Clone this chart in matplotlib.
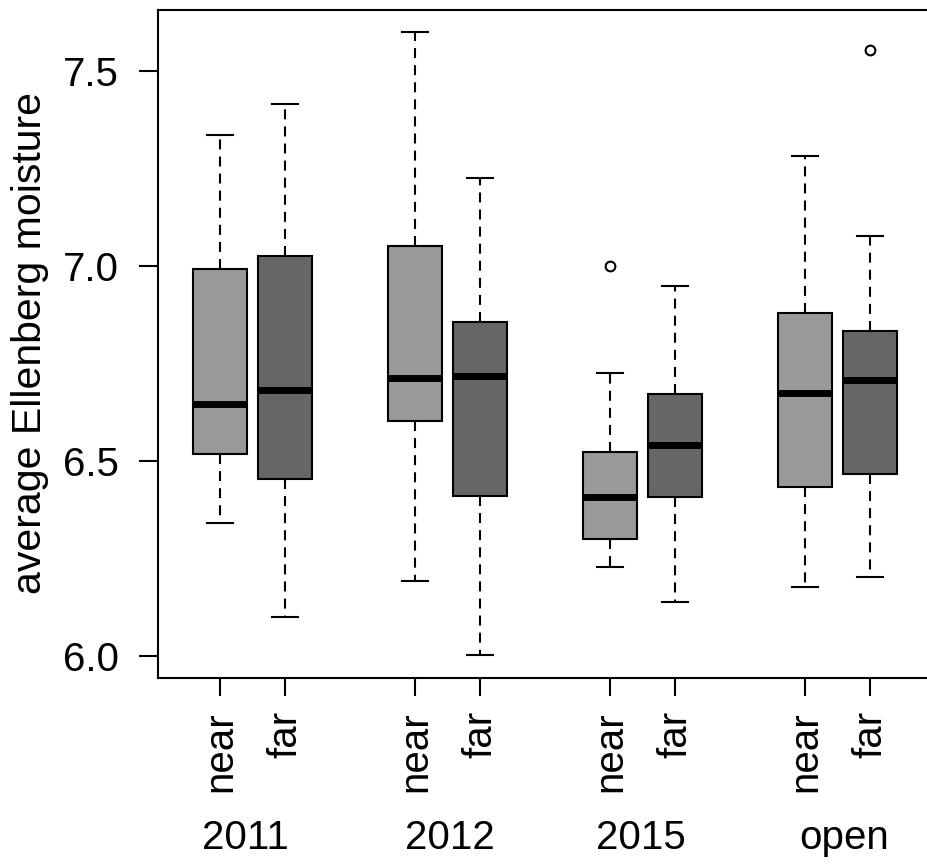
import matplotlib.pyplot as plt

plt.rcParams['font.family'] = ['Liberation Sans', 'DejaVu Sans']

# boxplot summaries
groups = ['2011', '2012', '2015', 'open']
sites = ['near', 'far']
whislo = [6.341, 6.100, 6.192, 6.003, 6.228, 6.138, 6.177, 6.203]
q1 = [6.518, 6.454, 6.603, 6.410, 6.300, 6.408, 6.433, 6.467]
med = [6.646, 6.682, 6.713, 6.718, 6.408, 6.541, 6.674, 6.708]
q3 = [6.992, 7.026, 7.051, 6.856, 6.523, 6.672, 6.879, 6.833]
whishi = [7.336, 7.415, 7.600, 7.226, 6.726, 6.949, 7.282, 7.077]
fliers = [[], [], [], [], [7.0], [], [], [7.554]]

positions = [1, 2, 4, 5, 7, 8, 10, 11]
group_pos = [1.384, 4.538, 7.477, 10.6]
fills = ['#999999', '#666666'] * 4

stats = []
for i in range(len(positions)):
    stats.append({'whislo': whislo[i], 'q1': q1[i], 'med': med[i],
                  'q3': q3[i], 'whishi': whishi[i], 'fliers': fliers[i]})

fig = plt.figure(figsize=(9.28, 8.66), dpi=100)
ax = fig.add_axes([158 / 928, 188 / 866, 770 / 928, 668 / 866])

dash = (0, (4.8, 3.4))
bp = ax.bxp(stats, positions=positions, widths=0.83, capwidths=0.41,
            patch_artist=True, showfliers=True,
            boxprops=dict(edgecolor='black', linewidth=1.5),
            medianprops=dict(color='black', linewidth=5, solid_capstyle='butt'),
            whiskerprops=dict(color='black', linewidth=1.5, linestyle=dash),
            capprops=dict(color='black', linewidth=1.5),
            flierprops=dict(marker='o', markersize=7, markerfacecolor='none',
                            markeredgecolor='black', markeredgewidth=1.5))
for patch, c in zip(bp['boxes'], fills):
    patch.set_facecolor(c)

ax.set_xlim(0.046, 11.892)
ax.set_ylim(5.944, 7.656)
ax.set_yticks([6.0, 6.5, 7.0, 7.5])
ax.set_yticklabels(['6.0', '6.5', '7.0', '7.5'])
ax.set_xticks(positions)
ax.set_xticklabels(sites * 4, rotation=90)

ax.tick_params(axis='y', length=14, width=1.5, pad=14, labelsize=29)
ax.tick_params(axis='x', length=13, width=1.5, pad=11, labelsize=29)
for s in ['left', 'bottom', 'top']:
    ax.spines[s].set_linewidth(1.5)
ax.spines['right'].set_visible(False)

for g, x in zip(groups, group_pos):
    ax.text(x, -0.24, g, transform=ax.get_xaxis_transform(),
            ha='center', va='center', fontsize=29)

fig.text(30 / 928, 1 - 343 / 866, 'average Ellenberg moisture',
         rotation=90, ha='center', va='center', fontsize=29.5)

plt.savefig('out.png', dpi=100)
